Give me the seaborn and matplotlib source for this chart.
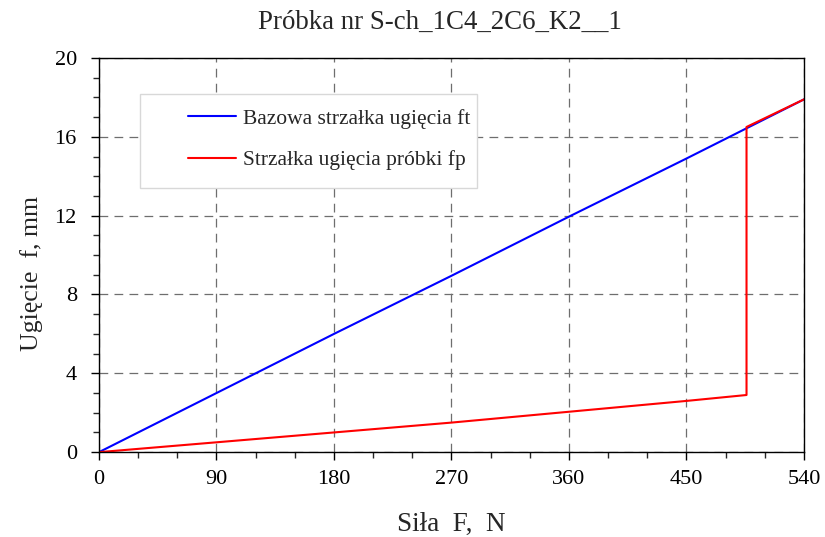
import matplotlib
matplotlib.use('Agg')
import matplotlib.pyplot as plt
import seaborn as sns
from matplotlib.patches import Rectangle
from matplotlib.ticker import MultipleLocator

# data
force_base = [0, 90, 180, 270, 360, 450, 540]
defl_base = [0, 3.0, 6.0, 8.95, 11.95, 14.9, 17.9]

force_sample = [0, 90, 180, 270, 360, 450, 496, 496, 540]
defl_sample = [0, 0.5, 1.0, 1.5, 2.05, 2.6, 2.9, 16.5, 17.9]

title = 'Próbka nr S-ch_1C4_2C6_K2__1'
label_base = 'Bazowa strzałka ugięcia ft'
label_sample = 'Strzałka ugięcia próbki fp'

sns.set_style('white')
plt.rcParams['font.family'] = ['Liberation Serif', 'DejaVu Serif']

fig = plt.figure(figsize=(8.25, 5.37), dpi=100)
ax = fig.add_axes([0.12, 0.158, 0.8545, 0.734])

sns.lineplot(x=force_base, y=defl_base, color='#0000ff', lw=1.5,
             sort=False, estimator=None, label=label_base, ax=ax)
sns.lineplot(x=force_sample, y=defl_sample, color='#ff0000', lw=1.5,
             sort=False, estimator=None, label=label_sample, ax=ax)

ax.set_xlim(0, 540)
ax.set_ylim(0, 20)
ax.xaxis.set_major_locator(MultipleLocator(90))
ax.xaxis.set_minor_locator(MultipleLocator(30))
ax.yaxis.set_major_locator(MultipleLocator(4))
ax.yaxis.set_minor_locator(MultipleLocator(1))

ax.grid(True, which='major', color='#6e6e6e', linestyle=(0, (7, 5)), linewidth=0.9)
ax.set_axisbelow(True)

for s in ax.spines.values():
    s.set_color('black')
    s.set_linewidth(1.0)

ax.tick_params(which='major', direction='out', length=6, width=1, labelsize=16,
               colors='black', bottom=True, left=True)
ax.tick_params(axis='x', which='major', pad=7)
ax.tick_params(axis='y', which='major', pad=10)
ax.tick_params(which='minor', direction='out', length=4, width=1,
               bottom=True, left=True)

ax.set_xlabel('Siła  F,  N', fontsize=19.5, labelpad=16)
ax.set_ylabel('Ugięcie  f, mm', fontsize=18.5)
ax.yaxis.set_label_coords(-0.08, 0.452)
ax.set_title(title, fontsize=19.4, pad=21, x=0.484)

# legend box drawn separately so the text can sit off-centre like the reference
ax.add_patch(Rectangle((0.058, 0.670), 0.478, 0.239, transform=ax.transAxes,
                       facecolor='white', edgecolor='#d8d8d8', lw=1.0, zorder=4))
leg = ax.legend(loc='upper left', bbox_to_anchor=(0.126, 0.872), fontsize=15.5,
                frameon=False, handlelength=2.26, handletextpad=0.28,
                labelspacing=1.0, borderpad=0, borderaxespad=0)
leg.set_zorder(5)

fig.savefig('out.png', dpi=100)
